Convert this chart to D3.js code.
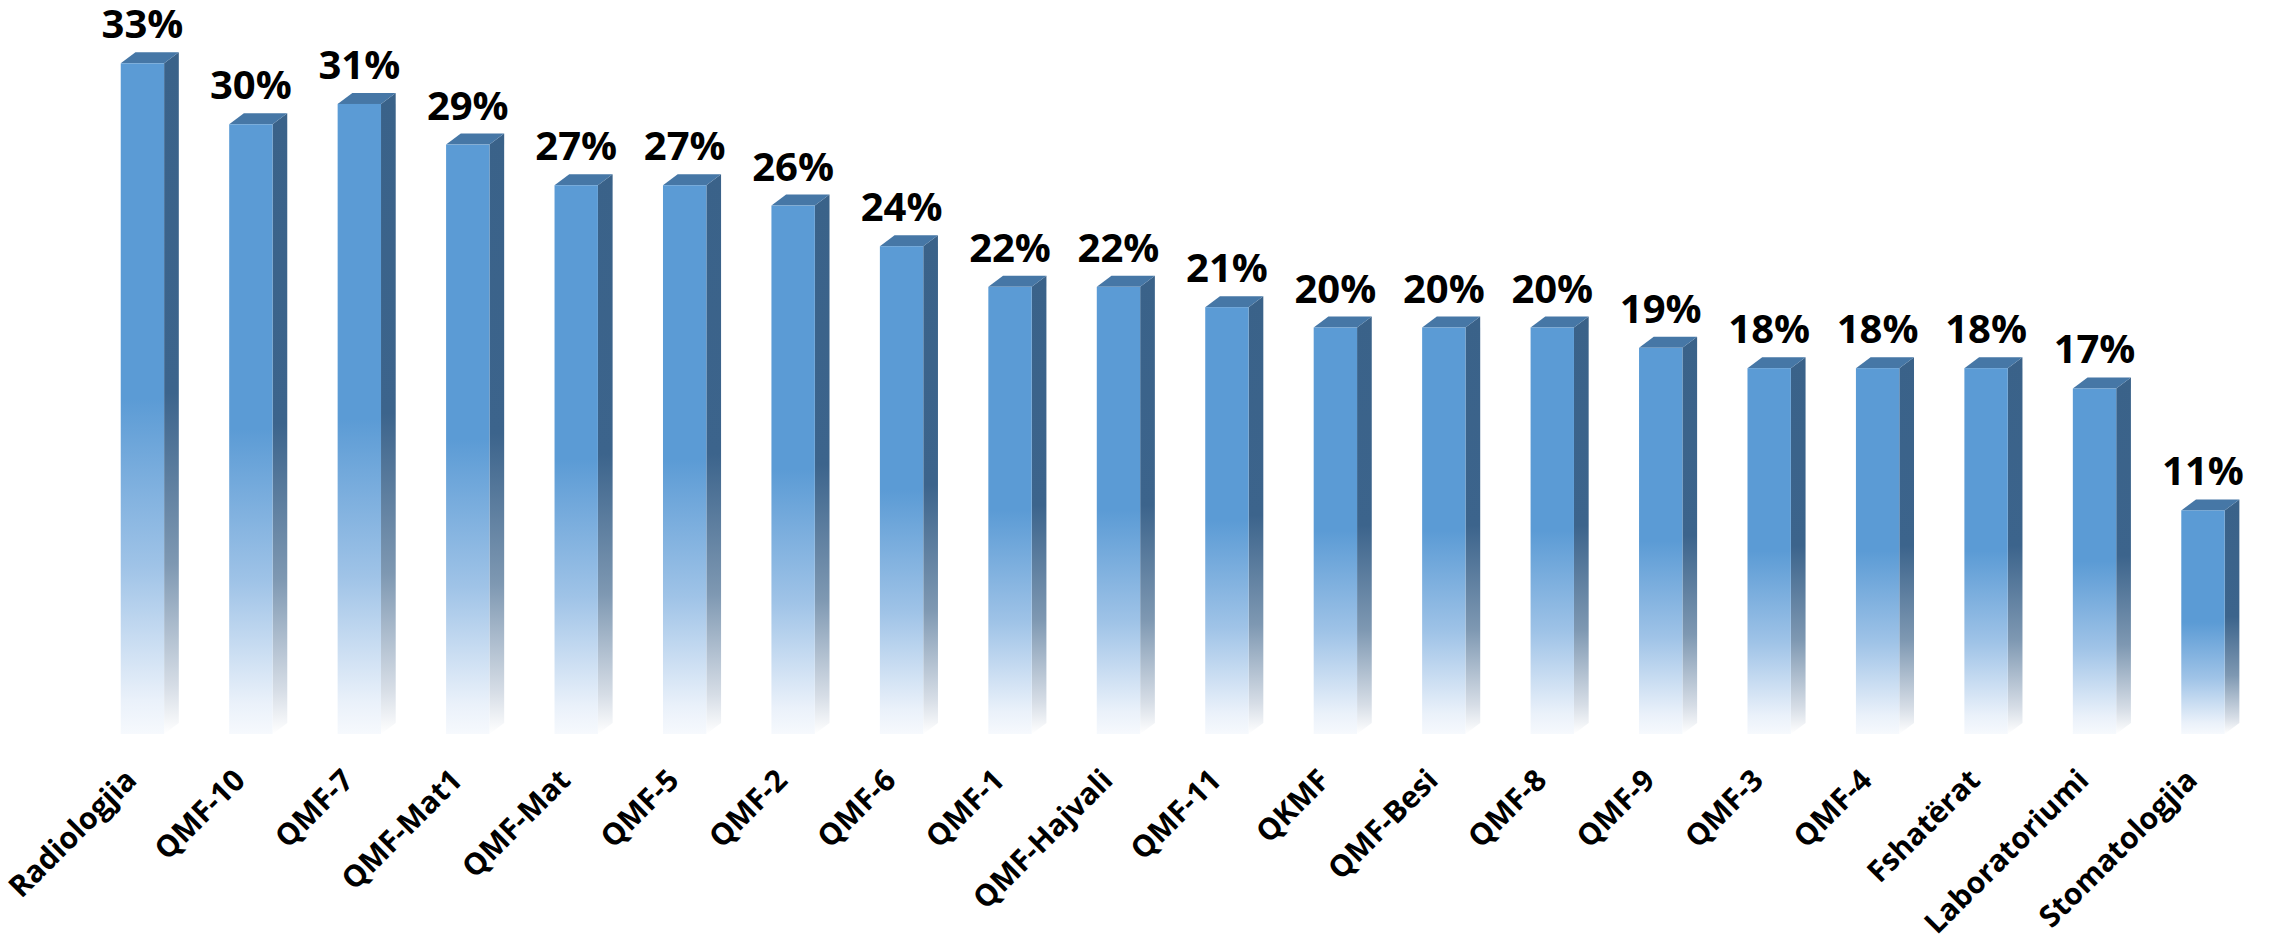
<!DOCTYPE html>
<html>
<head>
<meta charset="utf-8">
<script src="https://cdn.jsdelivr.net/npm/d3@7/dist/d3.min.js"></script>
<style>
  html, body { margin: 0; padding: 0; background: #ffffff; }
  svg { display: block; }
</style>
</head>
<body>
<svg id="chart" width="2275" height="939"></svg>
<script>
const categories = ["Radiologjia", "QMF-10", "QMF-7", "QMF-Mat1", "QMF-Mat", "QMF-5", "QMF-2", "QMF-6",
  "QMF-1", "QMF-Hajvali", "QMF-11", "QKMF", "QMF-Besi", "QMF-8", "QMF-9", "QMF-3", "QMF-4",
  "Fshatërat", "Laboratoriumi", "Stomatologjia"];
const values = [33, 30, 31, 29, 27, 27, 26, 24, 22, 22, 21, 20, 20, 20, 19, 18, 18, 18, 17, 11];
const valueLabels = values.map(v => v + "%");

const W = 2275, H = 939;
const svg = d3.select("#chart");

const x = d3.scaleBand().domain(categories).range([88.2, 2257.2]).paddingInner(0.6).paddingOuter(0.3);
const y = d3.scaleLinear().domain([0, 33]).range([734, 63.3]);

const depthX = 14.7, depthY = 11;

const defs = svg.append("defs");
const gFront = defs.append("linearGradient").attr("id", "gFront").attr("x1", 0).attr("y1", 0).attr("x2", 0).attr("y2", 1);
[[0, "#5b9bd5", 1], [0.5, "#5b9bd5", 1], [0.75, "#9fc3e7", 1], [0.95, "#eaf1fa", 1], [1, "#f6f9fd", 1]]
  .forEach(s => gFront.append("stop").attr("offset", s[0]).attr("stop-color", s[1]).attr("stop-opacity", s[2]));
const gSide = defs.append("linearGradient").attr("id", "gSide").attr("x1", 0).attr("y1", 0).attr("x2", 0).attr("y2", 1);
[[0, "#3a6289", 1], [0.5, "#3c648c", 1], [0.75, "#7e98b2", 1], [0.93, "#d6dde6", 1], [1, "#ffffff", 1]]
  .forEach(s => gSide.append("stop").attr("offset", s[0]).attr("stop-color", s[1]).attr("stop-opacity", s[2]));

const bars = svg.append("g").selectAll("g").data(categories).join("g");

// side face
bars.append("path")
  .attr("d", (c, i) => {
    const xr = x(c) + x.bandwidth(), yt = y(values[i]), yb = y(0);
    return `M${xr},${yt} L${xr + depthX},${yt - depthY} L${xr + depthX},${yb - depthY} L${xr},${yb} Z`;
  })
  .attr("fill", "url(#gSide)");

// top face
bars.append("path")
  .attr("d", (c, i) => {
    const xl = x(c), xr = x(c) + x.bandwidth(), yt = y(values[i]);
    return `M${xl},${yt} L${xl + depthX},${yt - depthY} L${xr + depthX},${yt - depthY} L${xr},${yt} Z`;
  })
  .attr("fill", "#4677a6");

// front face
bars.append("rect")
  .attr("x", c => x(c))
  .attr("y", (c, i) => y(values[i]))
  .attr("width", x.bandwidth())
  .attr("height", (c, i) => y(0) - y(values[i]))
  .attr("fill", "url(#gFront)");

// value labels
bars.append("text")
  .attr("x", c => x(c) + x.bandwidth() / 2)
  .attr("y", (c, i) => y(values[i]) - 25)
  .attr("text-anchor", "middle")
  .attr("font-family", "'Open Sans', sans-serif")
  .attr("font-weight", 700)
  .attr("font-size", 40)
  .attr("fill", "#000")
  .text((c, i) => valueLabels[i]);

// category axis labels
const axis = d3.axisBottom(x).tickSize(0).tickPadding(0);
const axG = svg.append("g").attr("transform", `translate(0, 782)`).call(axis);
axG.select(".domain").remove();
axG.selectAll("text")
  .attr("font-family", "'Open Sans', sans-serif")
  .attr("font-weight", 700)
  .attr("font-size", 30)
  .attr("fill", "#000")
  .attr("text-anchor", "end")
  .attr("dy", 0)
  .attr("y", 0)
  .attr("transform", "translate(-4,0) rotate(-45)");
</script>
</body>
</html>
